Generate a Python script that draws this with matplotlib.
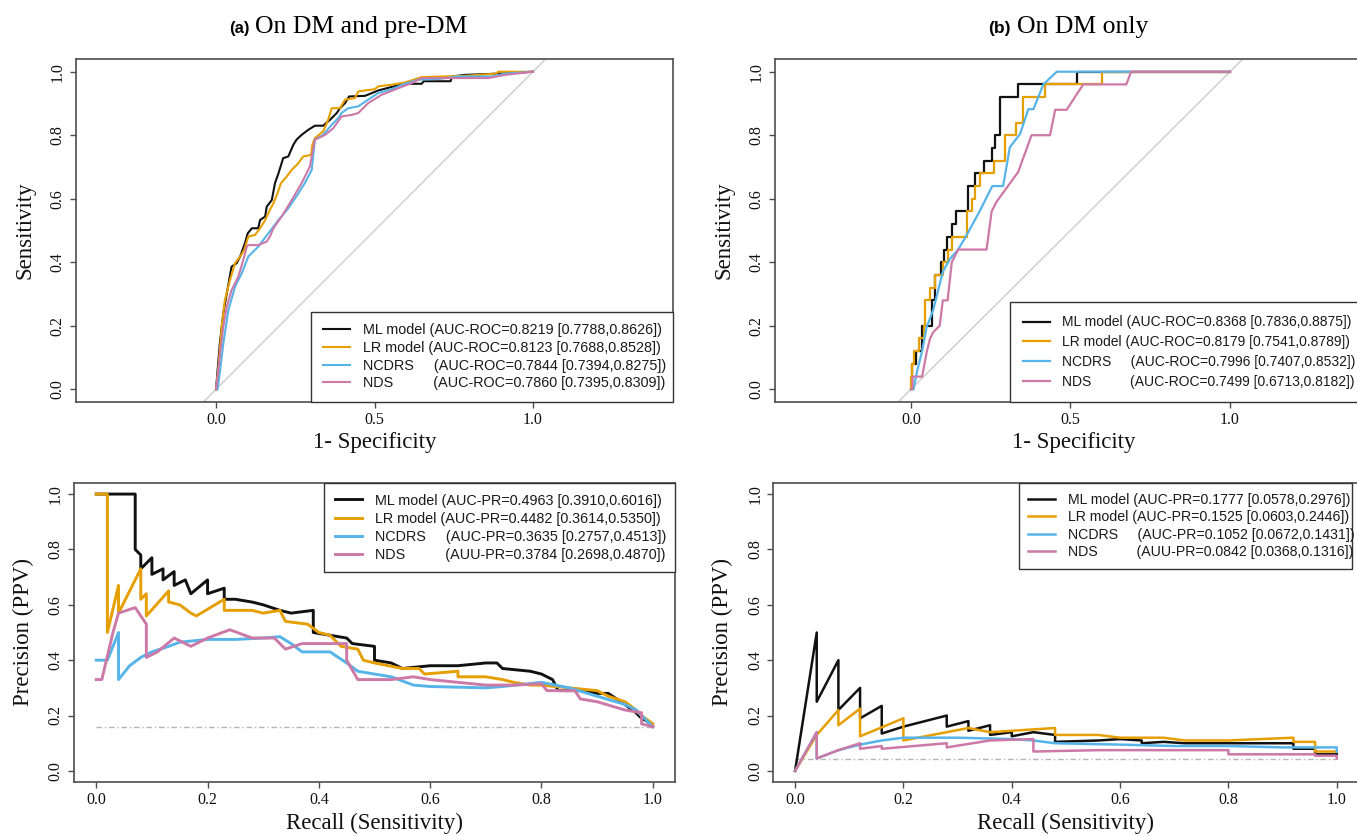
import matplotlib
matplotlib.use("Agg")
import matplotlib.pyplot as plt
from matplotlib.ticker import FormatStrFormatter

# ---------------- data ----------------
MODELS = ["ML model", "LR model", "NCDRS", "NDS"]
COLORS = ["#111111", "#E69F00", "#56B4E9", "#CC79A7"]

# (a) ROC, on DM and pre-DM
ml_roc_a_fpr = [0, 0.005, 0.012, 0.023, 0.034, 0.049, 0.065, 0.076, 0.091, 0.10,
                0.113, 0.133, 0.139, 0.155, 0.16, 0.176, 0.186, 0.197, 0.212, 0.228,
                0.244, 0.254, 0.27, 0.291, 0.312, 0.338, 0.36, 0.381, 0.391, 0.407,
                0.42, 0.47, 0.512, 0.554, 0.596, 0.649, 0.655, 0.74, 0.745, 0.785,
                0.89, 1.0]
ml_roc_a_tpr = [0, 0.06, 0.144, 0.239, 0.302, 0.386, 0.397, 0.418, 0.459, 0.491,
                0.507, 0.507, 0.533, 0.544, 0.575, 0.596, 0.649, 0.68, 0.728, 0.733,
                0.77, 0.786, 0.801, 0.817, 0.83, 0.83, 0.849, 0.87, 0.885, 0.901,
                0.922, 0.924, 0.941, 0.952, 0.962, 0.962, 0.97, 0.97, 0.985, 0.99,
                0.994, 1.0]
lr_roc_a_fpr = [0, 0.007, 0.018, 0.028, 0.044, 0.06, 0.076, 0.089, 0.102, 0.123,
                0.139, 0.155, 0.17, 0.181, 0.192, 0.205, 0.223, 0.239, 0.26, 0.275,
                0.30, 0.304, 0.312, 0.338, 0.354, 0.365, 0.391, 0.407, 0.438, 0.449,
                0.501, 0.512, 0.554, 0.596, 0.649, 0.785, 0.885, 0.89, 1.0]
lr_roc_a_tpr = [0, 0.06, 0.197, 0.281, 0.344, 0.397, 0.418, 0.439, 0.481, 0.486,
                0.507, 0.533, 0.565, 0.586, 0.612, 0.649, 0.67, 0.691, 0.712, 0.733,
                0.738, 0.77, 0.791, 0.812, 0.849, 0.885, 0.885, 0.912, 0.917, 0.938,
                0.945, 0.954, 0.959, 0.966, 0.983, 0.987, 0.994, 1.0, 1.0]
ncdrs_roc_a_fpr = [0.005, 0.013, 0.023, 0.039, 0.06, 0.081, 0.102, 0.133, 0.165, 0.197,
                   0.228, 0.26, 0.28, 0.302, 0.312, 0.338, 0.365, 0.386, 0.396, 0.417,
                   0.449, 0.48, 0.512, 0.554, 0.596, 0.638, 0.701, 0.764, 0.87, 0.912,
                   1.0]
ncdrs_roc_a_tpr = [0, 0.06, 0.144, 0.249, 0.323, 0.365, 0.418, 0.449, 0.491, 0.533,
                   0.57, 0.617, 0.649, 0.691, 0.786, 0.801, 0.833, 0.854, 0.87, 0.885,
                   0.891, 0.912, 0.933, 0.945, 0.962, 0.975, 0.977, 0.985, 0.985, 0.994,
                   1.0]
nds_roc_a_fpr = [0, 0.005, 0.013, 0.023, 0.034, 0.049, 0.07, 0.086, 0.097, 0.102,
                 0.133, 0.16, 0.17, 0.181, 0.207, 0.239, 0.27, 0.296, 0.312, 0.344,
                 0.37, 0.396, 0.428, 0.449, 0.48, 0.522, 0.575, 0.617, 0.649, 0.859,
                 0.912, 1.0]
nds_roc_a_tpr = [0, 0.04, 0.113, 0.197, 0.26, 0.312, 0.354, 0.407, 0.449, 0.454,
                 0.454, 0.465, 0.481, 0.507, 0.544, 0.596, 0.649, 0.701, 0.786, 0.801,
                 0.822, 0.859, 0.864, 0.87, 0.901, 0.927, 0.948, 0.964, 0.98, 0.98,
                 0.99, 1.0]

# (b) ROC, on DM only (staircases for ML / LR)
ml_roc_b_fpr = [0, 0.004, 0.015, 0.035, 0.065, 0.075, 0.095, 0.104, 0.112, 0.13,
                0.14, 0.18, 0.20, 0.23, 0.255, 0.265, 0.28, 0.335, 0.52, 1.0]
ml_roc_b_tpr = [0, 0.08, 0.12, 0.20, 0.28, 0.36, 0.40, 0.44, 0.48, 0.52,
                0.56, 0.64, 0.68, 0.72, 0.76, 0.80, 0.92, 0.96, 1.0, 1.0]
lr_roc_b_fpr = [0, 0, 0.004, 0.01, 0.024, 0.04, 0.045, 0.06, 0.075, 0.10, 0.115,
                0.128, 0.175, 0.19, 0.20, 0.215, 0.26, 0.295, 0.33, 0.35, 0.42,
                0.60, 1.0]
lr_roc_b_tpr = [0, 0.04, 0.08, 0.12, 0.16, 0.20, 0.28, 0.32, 0.36, 0.40, 0.44,
                0.48, 0.56, 0.60, 0.64, 0.68, 0.72, 0.80, 0.84, 0.92, 0.96,
                1.0, 1.0]
ncdrs_roc_b_fpr = [0.008, 0.02, 0.035, 0.049, 0.07, 0.10, 0.122, 0.148, 0.175, 0.215,
                   0.255, 0.268, 0.289, 0.31, 0.342, 0.368, 0.384, 0.415, 0.457, 1.0]
ncdrs_roc_b_tpr = [0.0, 0.06, 0.12, 0.195, 0.25, 0.37, 0.41, 0.44, 0.486, 0.56,
                   0.64, 0.64, 0.64, 0.762, 0.804, 0.882, 0.882, 0.96, 1.0, 1.0]
nds_roc_b_fpr = [0.0, 0.005, 0.005, 0.035, 0.05, 0.06, 0.07, 0.09, 0.10, 0.115,
                 0.128, 0.148, 0.237, 0.253, 0.268, 0.336, 0.378, 0.436, 0.452, 0.488,
                 0.54, 0.675, 0.69, 1.0]
nds_roc_b_tpr = [0.0, 0.0, 0.04, 0.04, 0.12, 0.16, 0.18, 0.20, 0.28, 0.28,
                 0.40, 0.44, 0.44, 0.56, 0.59, 0.684, 0.80, 0.80, 0.88, 0.88,
                 0.96, 0.96, 1.0, 1.0]

# (a) precision-recall
ml_pr_a_rec = [0.0, 0.07, 0.07, 0.08, 0.08, 0.10, 0.10, 0.12, 0.12, 0.14,
               0.14, 0.16, 0.17, 0.20, 0.20, 0.23, 0.23, 0.25, 0.28, 0.30,
               0.33, 0.35, 0.39, 0.39, 0.42, 0.45, 0.46, 0.50, 0.50, 0.53,
               0.55, 0.60, 0.65, 0.70, 0.72, 0.73, 0.78, 0.80, 0.82, 0.83,
               0.88, 0.90, 0.92, 0.95, 0.97, 0.98, 0.99, 1.0]
ml_pr_a_prec = [1.0, 1.0, 0.80, 0.78, 0.73, 0.77, 0.71, 0.73, 0.69, 0.72,
                0.67, 0.69, 0.64, 0.69, 0.64, 0.66, 0.62, 0.62, 0.61, 0.60,
                0.58, 0.57, 0.58, 0.50, 0.49, 0.48, 0.46, 0.45, 0.40, 0.39,
                0.37, 0.38, 0.38, 0.39, 0.39, 0.37, 0.36, 0.35, 0.33, 0.29,
                0.29, 0.28, 0.28, 0.24, 0.21, 0.19, 0.18, 0.16]
lr_pr_a_rec = [0.0, 0.02, 0.02, 0.04, 0.04, 0.08, 0.08, 0.09, 0.09, 0.13,
               0.13, 0.15, 0.17, 0.18, 0.23, 0.23, 0.28, 0.30, 0.33, 0.34,
               0.38, 0.40, 0.42, 0.44, 0.47, 0.48, 0.50, 0.55, 0.58, 0.59,
               0.65, 0.65, 0.70, 0.73, 0.75, 0.78, 0.80, 0.85, 0.90, 0.92,
               0.95, 0.97, 0.98, 1.0]
lr_pr_a_prec = [1.0, 1.0, 0.50, 0.67, 0.57, 0.73, 0.62, 0.64, 0.56, 0.65,
                0.61, 0.60, 0.57, 0.56, 0.62, 0.58, 0.58, 0.57, 0.58, 0.54,
                0.53, 0.50, 0.49, 0.45, 0.44, 0.40, 0.39, 0.37, 0.37, 0.35,
                0.36, 0.34, 0.34, 0.33, 0.32, 0.31, 0.31, 0.30, 0.29, 0.27,
                0.25, 0.22, 0.20, 0.17]
ncdrs_pr_a_rec = [0.0, 0.02, 0.04, 0.04, 0.06, 0.08, 0.10, 0.13, 0.15, 0.20,
                  0.25, 0.30, 0.33, 0.35, 0.37, 0.42, 0.45, 0.47, 0.50, 0.53,
                  0.57, 0.60, 0.70, 0.73, 0.80, 0.85, 0.90, 0.95, 0.97, 1.0]
ncdrs_pr_a_prec = [0.40, 0.40, 0.50, 0.33, 0.38, 0.41, 0.43, 0.45, 0.465, 0.475,
                   0.475, 0.48, 0.485, 0.46, 0.43, 0.43, 0.39, 0.36, 0.35, 0.34,
                   0.31, 0.305, 0.30, 0.305, 0.32, 0.30, 0.27, 0.24, 0.22, 0.16]
nds_pr_a_rec = [0.0, 0.01, 0.03, 0.04, 0.07, 0.09, 0.09, 0.11, 0.14, 0.17,
                0.20, 0.24, 0.28, 0.32, 0.34, 0.37, 0.45, 0.45, 0.47, 0.53,
                0.57, 0.60, 0.65, 0.70, 0.75, 0.80, 0.81, 0.86, 0.87, 0.90,
                0.95, 0.98, 0.98, 1.0]
nds_pr_a_prec = [0.33, 0.33, 0.50, 0.57, 0.59, 0.53, 0.41, 0.43, 0.48, 0.45,
                 0.48, 0.51, 0.48, 0.48, 0.44, 0.46, 0.46, 0.40, 0.33, 0.33,
                 0.34, 0.33, 0.32, 0.31, 0.31, 0.315, 0.29, 0.29, 0.26, 0.25,
                 0.22, 0.21, 0.17, 0.16]

# (b) precision-recall
ml_pr_b_rec = [0.0, 0.04, 0.04, 0.08, 0.08, 0.12, 0.12, 0.16, 0.16, 0.20,
               0.28, 0.28, 0.32, 0.32, 0.36, 0.36, 0.40, 0.40, 0.44, 0.48,
               0.48, 0.56, 0.60, 0.64, 0.64, 0.68, 0.72, 0.80, 0.88, 0.92,
               0.92, 0.96, 0.96, 1.0]
ml_pr_b_prec = [0.0, 0.50, 0.25, 0.40, 0.22, 0.30, 0.19, 0.235, 0.135, 0.16,
                0.20, 0.16, 0.18, 0.145, 0.165, 0.13, 0.14, 0.125, 0.14, 0.13,
                0.105, 0.11, 0.115, 0.11, 0.10, 0.105, 0.10, 0.10, 0.10, 0.10,
                0.08, 0.08, 0.06, 0.06]
lr_pr_b_rec = [0.0, 0.04, 0.08, 0.08, 0.12, 0.12, 0.20, 0.20, 0.28, 0.32,
               0.36, 0.40, 0.44, 0.48, 0.48, 0.56, 0.60, 0.64, 0.68, 0.72,
               0.80, 0.92, 0.92, 0.96, 0.96, 1.0]
lr_pr_b_prec = [0.0, 0.13, 0.22, 0.165, 0.225, 0.125, 0.19, 0.11, 0.14, 0.155,
                0.14, 0.145, 0.15, 0.155, 0.13, 0.13, 0.12, 0.12, 0.12, 0.11,
                0.11, 0.12, 0.105, 0.105, 0.07, 0.07]
ncdrs_pr_b_rec = [0.0, 0.04, 0.04, 0.08, 0.12, 0.16, 0.20, 0.30, 0.40, 0.44,
                  0.48, 0.60, 0.70, 0.80, 0.90, 1.0, 1.0]
ncdrs_pr_b_prec = [0.0, 0.14, 0.045, 0.075, 0.095, 0.11, 0.12, 0.12, 0.115, 0.11,
                   0.10, 0.095, 0.09, 0.09, 0.085, 0.085, 0.07]
nds_pr_b_rec = [0.0, 0.04, 0.04, 0.08, 0.12, 0.12, 0.16, 0.16, 0.28, 0.28,
                0.36, 0.44, 0.44, 0.56, 0.64, 0.80, 0.80, 0.96, 0.96, 1.0, 1.0]
nds_pr_b_prec = [0.0, 0.14, 0.045, 0.075, 0.10, 0.08, 0.09, 0.08, 0.10, 0.085,
                 0.11, 0.115, 0.07, 0.075, 0.075, 0.075, 0.06, 0.06, 0.055, 0.055, 0.045]

# no-skill baselines (prevalence)
baseline_a = 0.157
baseline_b = 0.042

roc_a_labels = ["ML model (AUC-ROC=0.8219 [0.7788,0.8626])",
                "LR model (AUC-ROC=0.8123 [0.7688,0.8528])",
                "NCDRS     (AUC-ROC=0.7844 [0.7394,0.8275])",
                "NDS          (AUC-ROC=0.7860 [0.7395,0.8309])"]
roc_b_labels = ["ML model (AUC-ROC=0.8368 [0.7836,0.8875])",
                "LR model (AUC-ROC=0.8179 [0.7541,0.8789])",
                "NCDRS     (AUC-ROC=0.7996 [0.7407,0.8532])",
                "NDS          (AUC-ROC=0.7499 [0.6713,0.8182])"]
pr_a_labels = ["ML model (AUC-PR=0.4963 [0.3910,0.6016])",
               "LR model (AUC-PR=0.4482 [0.3614,0.5350])",
               "NCDRS     (AUC-PR=0.3635 [0.2757,0.4513])",
               "NDS          (AUU-PR=0.3784 [0.2698,0.4870])"]
pr_b_labels = ["ML model (AUC-PR=0.1777 [0.0578,0.2976])",
               "LR model (AUC-PR=0.1525 [0.0603,0.2446])",
               "NCDRS     (AUC-PR=0.1052 [0.0672,0.1431])",
               "NDS          (AUU-PR=0.0842 [0.0368,0.1316])"]

# ---------------- figure ----------------
plt.rcParams['font.family'] = ['Liberation Serif', 'DejaVu Serif']
W, H = 1357, 836
fig = plt.figure(figsize=(W / 100, H / 100), dpi=100)


def px_box(left, top, right, bottom):
    return [left / W, 1 - bottom / H, (right - left) / W, (bottom - top) / H]


SPINE = "#4d4d4d"


def style(ax, xticks, xlabel, ylabel, xlim, xpad):
    ax.set_xlim(*xlim)
    ax.set_ylim(-0.04, 1.04)
    ax.set_xticks(xticks)
    ax.set_yticks([0, 0.2, 0.4, 0.6, 0.8, 1.0])
    ax.xaxis.set_major_formatter(FormatStrFormatter('%.1f'))
    ax.yaxis.set_major_formatter(FormatStrFormatter('%.1f'))
    for s in ax.spines.values():
        s.set_color(SPINE)
        s.set_linewidth(1.2)
    ax.tick_params(length=4.3, width=1, color=SPINE, labelsize=11.5, pad=3,
                   labelcolor="#111111")
    plt.setp(ax.get_yticklabels(), rotation=90, va='center')
    ax.set_xlabel(xlabel, fontsize=16.5, labelpad=xpad, color="#111111")
    ax.set_ylabel(ylabel, fontsize=16.5, labelpad=10, color="#111111")


def add_legend(ax, labels, anchor, loc, size, spacing, bpad):
    leg = ax.legend(ax.get_lines()[:4], labels, loc=loc, bbox_to_anchor=anchor,
                    mode='expand', borderaxespad=0, fancybox=False,
                    edgecolor="#333333", framealpha=1,
                    prop={'family': 'Liberation Sans', 'size': size},
                    handlelength=1.9, handletextpad=0.9,
                    labelspacing=spacing, borderpad=bpad)
    leg.get_frame().set_linewidth(1.0)
    for t in leg.get_texts():
        t.set_color("#1a1a1a")
    return leg


ax_ra = fig.add_axes(px_box(75.6, 59, 673.4, 402))
ax_rb = fig.add_axes(px_box(775, 59, 1372, 402))
ax_pa = fig.add_axes(px_box(74, 483, 675, 782))
ax_pb = fig.add_axes(px_box(773.4, 483, 1358.4, 782))

# ROC (a)
roc_a = [(ml_roc_a_fpr, ml_roc_a_tpr), (lr_roc_a_fpr, lr_roc_a_tpr),
         (ncdrs_roc_a_fpr, ncdrs_roc_a_tpr), (nds_roc_a_fpr, nds_roc_a_tpr)]
for (x, y), c in zip(roc_a, COLORS):
    ax_ra.plot(x, y, color=c, lw=1.5)
ax_ra.axline((0, 0), (1, 1), color="#cccccc", lw=1.0, zorder=0)
style(ax_ra, [0, 0.5, 1.0], "1- Specificity", "Sensitivity", (-0.443, 1.443), 3)
add_legend(ax_ra, roc_a_labels, (0.394, 0, 0.606, 0.3), 'lower left', 10.4, 0.26, 0.8)

# ROC (b)
ax_rb.plot(ml_roc_b_fpr, ml_roc_b_tpr, color=COLORS[0], lw=1.6, drawstyle='steps-post')
ax_rb.plot(lr_roc_b_fpr, lr_roc_b_tpr, color=COLORS[1], lw=1.6, drawstyle='steps-post')
ax_rb.plot(ncdrs_roc_b_fpr, ncdrs_roc_b_tpr, color=COLORS[2], lw=1.6)
ax_rb.plot(nds_roc_b_fpr, nds_roc_b_tpr, color=COLORS[3], lw=1.6)
ax_rb.axline((0, 0), (1, 1), color="#cccccc", lw=1.0, zorder=0)
style(ax_rb, [0, 0.5, 1.0], "1- Specificity", "Sensitivity", (-0.426, 1.445), 3)
add_legend(ax_rb, roc_b_labels, (0.394, 0, 0.606, 0.35), 'lower left', 10.0, 0.42, 0.94)

# PR (a)
pr_a = [(ml_pr_a_rec, ml_pr_a_prec), (lr_pr_a_rec, lr_pr_a_prec),
        (ncdrs_pr_a_rec, ncdrs_pr_a_prec), (nds_pr_a_rec, nds_pr_a_prec)]
for (x, y), c in zip(pr_a, COLORS):
    ax_pa.plot(x, y, color=c, lw=2.1)
ax_pa.plot([0, 1], [baseline_a, baseline_a], color="#b5b5b5", lw=1.0,
           linestyle=(0, (4, 2, 1, 2)), zorder=0)
style(ax_pa, [0, 0.2, 0.4, 0.6, 0.8, 1.0], "Recall (Sensitivity)", "Precision (PPV)",
      (-0.04, 1.04), 3.5)
add_legend(ax_pa, pr_a_labels, (0.416, 0.6, 0.584, 0.4), 'upper left', 10.4, 0.28, 0.73)

# PR (b)
pr_b = [(ml_pr_b_rec, ml_pr_b_prec), (lr_pr_b_rec, lr_pr_b_prec),
        (ncdrs_pr_b_rec, ncdrs_pr_b_prec), (nds_pr_b_rec, nds_pr_b_prec)]
for (x, y), c in zip(pr_b, COLORS):
    ax_pb.plot(x, y, color=c, lw=1.8)
ax_pb.plot([0, 1], [baseline_b, baseline_b], color="#b5b5b5", lw=1.0,
           linestyle=(0, (4, 2, 1, 2)), zorder=0)
style(ax_pb, [0, 0.2, 0.4, 0.6, 0.8, 1.0], "Recall (Sensitivity)", "Precision (PPV)",
      (-0.04, 1.04), 3.5)
add_legend(ax_pb, pr_b_labels, (0.419, 0.6, 0.5695, 0.4), 'upper left', 10.2, 0.245, 0.68)

# panel titles
ty = 1 - 33 / H
fig.text(250 / W, ty, "(a)", ha='right', va='baseline', fontsize=12,
         fontweight='bold', family=['Liberation Sans', 'DejaVu Sans'])
fig.text(255 / W, ty, "On DM and pre-DM", ha='left', va='baseline', fontsize=18.5)
fig.text(1011 / W, ty, "(b)", ha='right', va='baseline', fontsize=12.5,
         fontweight='bold', family=['Liberation Sans', 'DejaVu Sans'])
fig.text(1017 / W, ty, "On DM only", ha='left', va='baseline', fontsize=18.5)

fig.savefig("out.png", dpi=100)
